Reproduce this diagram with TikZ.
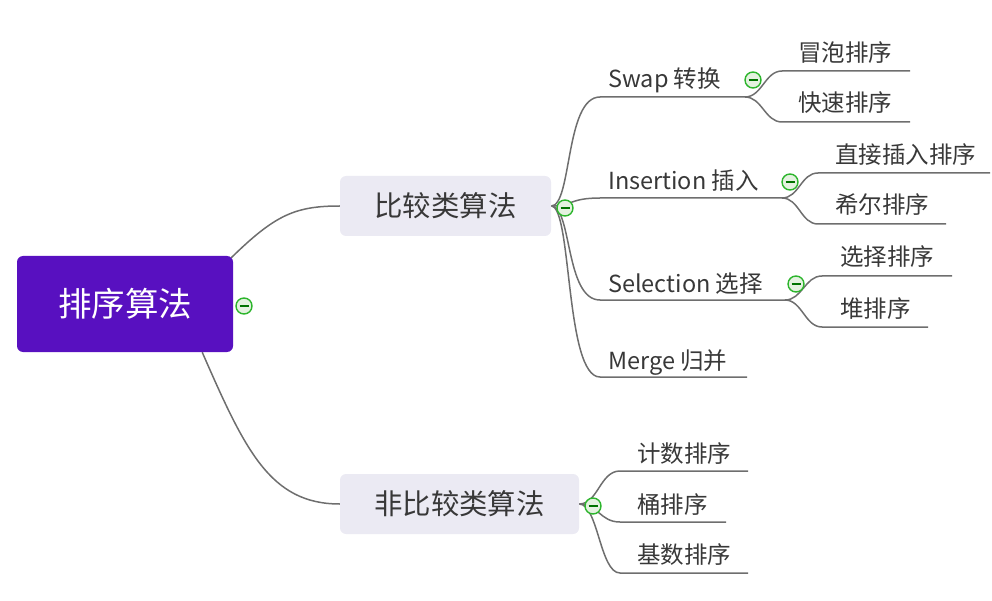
\documentclass[tikz,border=0pt]{standalone}
\usepackage{fontspec}
\setmainfont{Noto Sans CJK SC}
\usetikzlibrary{calc,backgrounds}
\definecolor{linegray}{HTML}{6E6E6E}
\definecolor{textdark}{HTML}{383838}
\definecolor{rootfill}{HTML}{5810C0}
\definecolor{boxfill}{HTML}{EBEAF3}
\definecolor{togglegreen}{HTML}{2DB52D}
\definecolor{togglefill}{HTML}{E4F2E0}
\begin{document}
\begin{tikzpicture}[x=1pt,y=-1pt,
  link/.style={draw=linegray, line width=1.5pt},
  leaf/.style={font=\fontsize{23.5}{27}\selectfont, text=textdark, inner sep=0pt, anchor=base west},
  rootbox/.style={fill=rootfill, rounded corners=6pt, minimum width=216pt, minimum height=96pt, text=white, font=\fontsize{33.5}{38}\selectfont},
  topicbox/.style={fill=boxfill, rounded corners=6pt, minimum height=60pt, text=textdark, font=\fontsize{28.4}{32}\selectfont},
  toggle/.style={circle, draw=togglegreen, fill=togglefill, line width=1.4pt, minimum size=16pt, inner sep=0pt,
    path picture={\draw[green!45!black, line width=1.6pt] ([xshift=-4.5pt]path picture bounding box.center) -- ([xshift=4.5pt]path picture bounding box.center);}}
]
\useasboundingbox (0,0) rectangle (992,601);

% nodes
\node[rootbox] (root) at (125,304) {排序算法};
\node[topicbox, minimum width=211pt] (cmp) at (445.5,206) {比较类算法};
\node[topicbox, minimum width=239pt] (ncmp) at (459.5,504) {非比较类算法};

\node[leaf] (swap) at (608,88) {Swap 转换};
\node[leaf] (bubble) at (798,62) {冒泡排序};
\node[leaf] (quick) at (798,112) {快速排序};
\node[leaf] (ins) at (608,190) {Insertion 插入};
\node[leaf] (dins) at (835,164) {直接插入排序};
\node[leaf] (shell) at (835,214) {希尔排序};
\node[leaf] (sel) at (608,292) {Selection 选择};
\node[leaf] (ssel) at (840,266) {选择排序};
\node[leaf] (heap) at (840,317) {堆排序};
\node[leaf] (merge) at (608,369) {Merge 归并};
\node[leaf] (count) at (637,462) {计数排序};
\node[leaf] (bucket) at (637,513) {桶排序};
\node[leaf] (radix) at (637,563) {基数排序};

% coordinates of underline ends
\coordinate (swapA) at (600,97);   \coordinate (swapB) at (745,97);
\coordinate (insA) at (600,198);   \coordinate (insB) at (782,198);
\coordinate (selA) at (600,300);   \coordinate (selB) at (785,300);
\coordinate (mergeA) at (600,377); \coordinate (mergeB) at (747,377);
\coordinate (bubA) at (782,71);    \coordinate (bubB) at (910,71);
\coordinate (quiA) at (782,122);   \coordinate (quiB) at (910,122);
\coordinate (dinA) at (818,173);   \coordinate (dinB) at (990,173);
\coordinate (sheA) at (818,224);   \coordinate (sheB) at (946,224);
\coordinate (sslA) at (822,276);   \coordinate (sslB) at (952,276);
\coordinate (heaA) at (822,327);   \coordinate (heaB) at (928,327);
\coordinate (couA) at (620,471);   \coordinate (couB) at (748,471);
\coordinate (bucA) at (620,522);   \coordinate (bucB) at (726,522);
\coordinate (radA) at (620,573);   \coordinate (radB) at (748,573);

\begin{scope}[on background layer]
% root connectors
\draw[link] ($(root.north east)+(-2,2)$) .. controls (275,215) and (295,206) .. (cmp.west);
\draw[link] ($(root.south east)+(-31,0)$) .. controls (245,450) and (270,504) .. (ncmp.west);

% comparison branches
\draw[link] (cmp.east) .. controls (572,206) and (565,97) .. (swapA) -- (swapB);
\draw[link] (cmp.east) .. controls (572,206) and (570,198) .. (insA) -- (insB);
\draw[link] (cmp.east) .. controls (572,206) and (565,300) .. (selA) -- (selB);
\draw[link] (cmp.east) .. controls (572,206) and (565,377) .. (mergeA) -- (mergeB);

% swap children
\draw[link] (swapB) .. controls (762,97) and (765,71) .. (bubA) -- (bubB);
\draw[link] (swapB) .. controls (762,97) and (765,122) .. (quiA) -- (quiB);
% insertion children
\draw[link] (insB) .. controls (799,198) and (801,173) .. (dinA) -- (dinB);
\draw[link] (insB) .. controls (799,198) and (801,224) .. (sheA) -- (sheB);
% selection children
\draw[link] (selB) .. controls (802,300) and (805,276) .. (sslA) -- (sslB);
\draw[link] (selB) .. controls (802,300) and (805,327) .. (heaA) -- (heaB);

% non-comparison children
\draw[link] (ncmp.east) .. controls (598,504) and (600,471) .. (couA) -- (couB);
\draw[link] (ncmp.east) .. controls (598,504) and (600,522) .. (bucA) -- (bucB);
\draw[link] (ncmp.east) .. controls (598,504) and (600,573) .. (radA) -- (radB);
\end{scope}

% toggles
\node[toggle] (t0) at (244,306) {};
\node[toggle] (t1) at (565,208) {};
\node[toggle] (t2) at (753,80) {};
\node[toggle] (t3) at (790,182) {};
\node[toggle] (t4) at (796,284) {};
\node[toggle] (t5) at (593,506) {};
\end{tikzpicture}
\end{document}
